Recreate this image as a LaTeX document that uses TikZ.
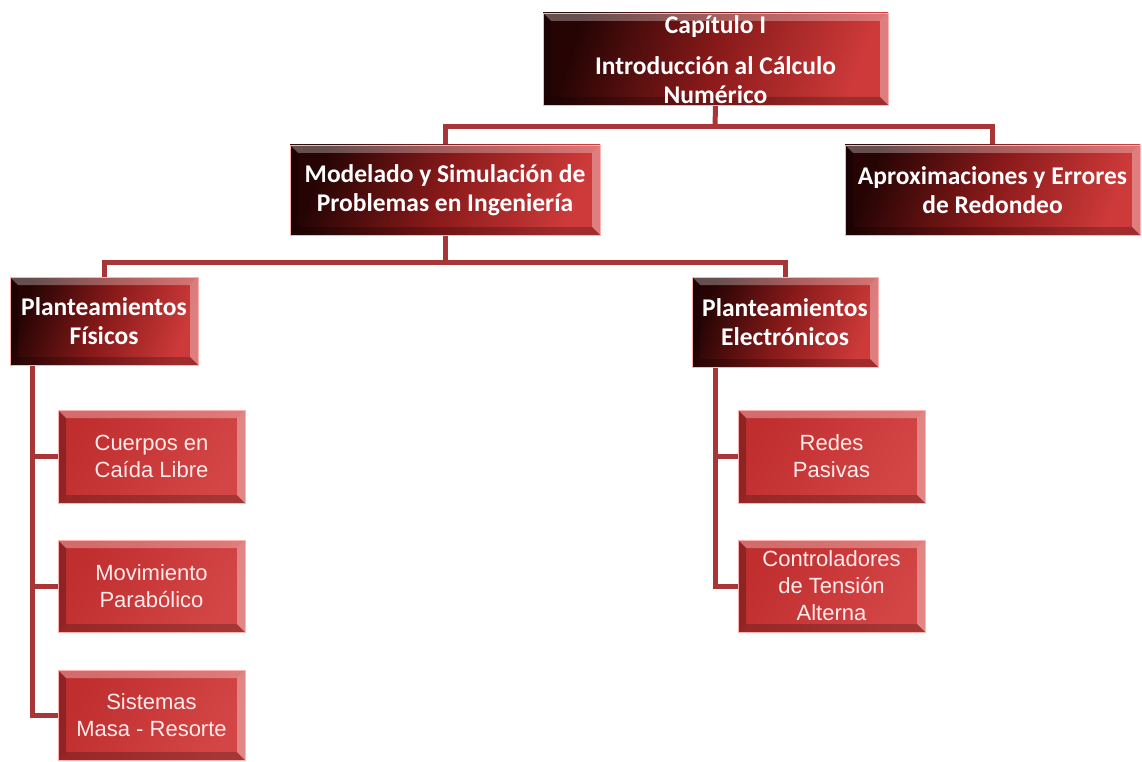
\documentclass[tikz,border=0pt]{standalone}
\usepackage{fontspec}
\setmainfont{Liberation Sans}
\newfontfamily\boldfam{Carlito}
\usetikzlibrary{calc,backgrounds}
\definecolor{conn}{HTML}{A83636}
\definecolor{pdark}{HTML}{260404}
\definecolor{pmid}{HTML}{8A1A1A}
\definecolor{pred}{HTML}{CE3A3A}
\definecolor{cred}{HTML}{C02E2E}
\definecolor{cred2}{HTML}{D44646}
\tikzset{
  bevel/.style={path picture={
    \fill[white,opacity=0.30] (path picture bounding box.north west) -- (path picture bounding box.north east) -- ([xshift=-8pt,yshift=-8pt]path picture bounding box.north east) -- ([xshift=8pt,yshift=-8pt]path picture bounding box.north west) -- cycle;
    \fill[black,opacity=0.25] (path picture bounding box.north west) -- ([xshift=8pt,yshift=-8pt]path picture bounding box.north west) -- ([xshift=8pt,yshift=8pt]path picture bounding box.south west) -- (path picture bounding box.south west) -- cycle;
    \fill[white,opacity=0.35] (path picture bounding box.north east) -- ([xshift=-8pt,yshift=-8pt]path picture bounding box.north east) -- ([xshift=-8pt,yshift=8pt]path picture bounding box.south east) -- (path picture bounding box.south east) -- cycle;
    \fill[black,opacity=0.22] (path picture bounding box.south west) -- ([xshift=8pt,yshift=8pt]path picture bounding box.south west) -- ([xshift=-8pt,yshift=8pt]path picture bounding box.south east) -- (path picture bounding box.south east) -- cycle;
  }},
  boldtext/.style={text=white, align=center, font=\boldfam\bfseries\fontsize{25.5}{29.5}\selectfont},
  parentbox/.style={bevel, left color=pdark, right color=pred, middle color=pmid, shading angle=70,
    draw=white!70!red, line width=0.6pt, boldtext, inner sep=0pt},
  childbox/.style={bevel, left color=cred, right color=cred2, shading angle=60,
    draw=white!70!red, line width=0.6pt, text=white!92!red, align=center, inner sep=0pt,
    font=\fontsize{22}{27}\selectfont},
  link/.style={draw=conn, line width=5pt},
}
\begin{document}
\begin{tikzpicture}[x=1pt,y=-1pt]
\useasboundingbox (0,0) rectangle (1142,762);
\node[parentbox, minimum width=345pt, minimum height=92pt] (top) at (715.5,59) {};
\node[boldtext] (toptxt) at (715.5,27) {Capítulo I};
\node[boldtext] (toptxt2) at (715.5,80) {Introducción al Cálculo\\Numérico};

\node[parentbox, minimum width=310pt, minimum height=90pt] (mod) at (445,190) {Modelado y Simulación de\\Problemas en Ingeniería};
\node[parentbox, minimum width=295pt, minimum height=90pt] (ap) at (992.5,190) {Aproximaciones y Errores\\de Redondeo};

\node[parentbox, minimum width=188pt, minimum height=88pt] (pf) at (104,321) {Planteamientos\\Físicos};
\node[parentbox, minimum width=186pt, minimum height=90pt] (pe) at (785,322) {Planteamientos\\Electrónicos};

\node[childbox, minimum width=187pt, minimum height=93pt] (c1) at (151.5,456.5) {Cuerpos en\\Caída Libre};
\node[childbox, minimum width=187pt, minimum height=92pt] (c2) at (151.5,586) {Movimiento\\Parabólico};
\node[childbox, minimum width=187pt, minimum height=90pt] (c3) at (151.5,715) {Sistemas\\Masa - Resorte};

\node[childbox, minimum width=187pt, minimum height=93pt] (r1) at (831.5,456.5) {Redes\\Pasivas};
\node[childbox, minimum width=187pt, minimum height=92pt] (r2) at (831.5,586) {Controladores\\de Tensión\\Alterna};

\coordinate (j1) at (715,127);
\coordinate (j2) at (445,262);
\coordinate (lx) at ([xshift=23pt]pf.south west);
\coordinate (rx) at ([xshift=24pt]pe.south west);

\begin{scope}[on background layer]
\path[link] (top.south) -- (j1);
\path[link] (mod.north) |- (j1) -| (ap.north);
\path[link] (mod.south) -- (j2);
\path[link] (pf.north) |- (j2) -| (pe.north);
\path[link] (lx) |- (c3.west);
\path[link] (c1.west) -- (c1.west -| lx);
\path[link] (c2.west) -- (c2.west -| lx);
\path[link] (rx) |- (r2.west);
\path[link] (r1.west) -- (r1.west -| rx);
\end{scope}
\end{tikzpicture}
\end{document}
